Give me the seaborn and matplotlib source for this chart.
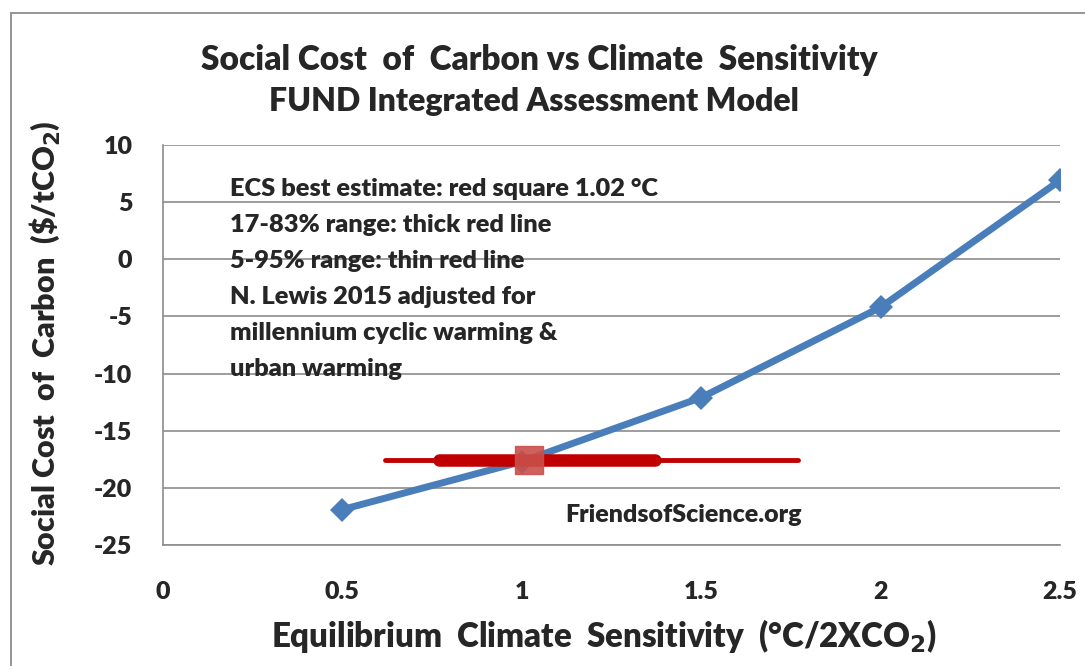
import matplotlib
matplotlib.use('Agg')
import matplotlib.pyplot as plt
import seaborn as sns
import pandas as pd
from matplotlib.patches import Rectangle
from matplotlib.ticker import MultipleLocator

# blue curve: FUND social cost of carbon
ecs = [0.5, 1.0, 1.5, 2.0, 2.5]
scc = [-21.9, -17.7, -12.1, -4.2, 6.9]

# N. Lewis 2015 adjusted estimate (red)
ecs_best = 1.02
range_17_83 = [0.77, 1.37]
range_5_95 = [0.62, 1.77]
red_level = -17.6

note_lines = [
    "ECS best estimate: red square 1.02 °C",
    "17-83% range: thick red line",
    "5-95% range: thin red line",
    "N. Lewis 2015 adjusted for",
    "millennium cyclic warming &",
    "urban warming",
]

sns.set_style("white")
plt.rcParams['font.family'] = ['Lato', 'DejaVu Sans']
plt.rcParams['font.weight'] = 'heavy'
plt.rcParams['mathtext.default'] = 'bf'
plt.rcParams['axes.unicode_minus'] = False
W = 'heavy'

fig = plt.figure(figsize=(10.85, 6.66), dpi=100)
ax = fig.add_axes([0.1502, 0.1817, 0.8268, 0.6006])

# outer chart frame
fig.patches.append(Rectangle((11 / 1085, -0.1), 1.2, 1 - 13 / 666 + 0.1,
                             transform=fig.transFigure, fill=False,
                             edgecolor='#8c8c8c', linewidth=1.3))

df = pd.DataFrame({'ECS': ecs, 'SCC': scc})
sns.lineplot(data=df, x='ECS', y='SCC', ax=ax, color='#4a7ebb', linewidth=5,
             marker='D', markersize=12, markeredgewidth=0, zorder=3)

ax.plot(range_5_95, [red_level, red_level], color='#c00000', linewidth=3.5,
        solid_capstyle='round', zorder=4)
ax.plot(range_17_83, [red_level, red_level], color='#c00000', linewidth=9,
        solid_capstyle='round', zorder=4)
ax.plot([ecs_best], [red_level], marker='s', markersize=20, color='#c9504a',
        alpha=0.9, linestyle='none', zorder=5)

ax.set_xlim(0, 2.5)
ax.set_ylim(-25, 10)
ax.xaxis.set_minor_locator(MultipleLocator(0.1))
ax.yaxis.set_major_locator(MultipleLocator(5))
ax.set_xticks([0, 0.5, 1, 1.5, 2, 2.5])
ax.set_xticklabels(['0', '0.5', '1', '1.5', '2', '2.5'])
ax.grid(True, axis='y', color='#8c8c8c', linewidth=1.2)
ax.set_axisbelow(True)
for side in ['top', 'right']:
    ax.spines[side].set_visible(False)
for side in ['left', 'bottom']:
    ax.spines[side].set_color('#8c8c8c')
    ax.spines[side].set_linewidth(1.2)
ax.tick_params(axis='y', which='major', direction='out', length=10, width=1.2,
               color='#8c8c8c', labelsize=18, pad=12)
ax.tick_params(axis='x', which='major', direction='inout', length=16, width=1.2,
               color='#8c8c8c', labelsize=18, pad=18)
ax.tick_params(axis='x', which='minor', direction='in', length=8, width=1.2,
               color='#8c8c8c')
for lab in ax.get_xticklabels() + ax.get_yticklabels():
    lab.set_fontweight(W)

ax.set_xlabel(r'Equilibrium  Climate  Sensitivity  (°C/2XCO$_2$)', fontsize=23.8,
              fontweight=W)
ax.xaxis.set_label_coords(0.4916, -0.18)
ax.set_ylabel(r'Social Cost  of  Carbon  (\$/tCO$_2$)', fontsize=22,
              fontweight=W)
ax.yaxis.set_label_coords(-0.112, 0.505)

fig.text(0.497, 0.91, 'Social Cost  of  Carbon vs Climate  Sensitivity',
         ha='center', va='center', fontsize=24, fontweight=W)
fig.text(0.492, 0.847, 'FUND Integrated Assessment Model',
         ha='center', va='center', fontsize=23, fontweight=W)

for i, line in enumerate(note_lines):
    ax.text(0.075, 0.89 - i * 0.09, line, transform=ax.transAxes,
            fontsize=18.3, fontweight=W, va='center', ha='left')

ax.text(0.448, 0.075, 'FriendsofScience.org', transform=ax.transAxes,
        fontsize=18, fontweight=W, va='center', ha='left')

fig.savefig('out.png', dpi=100)
